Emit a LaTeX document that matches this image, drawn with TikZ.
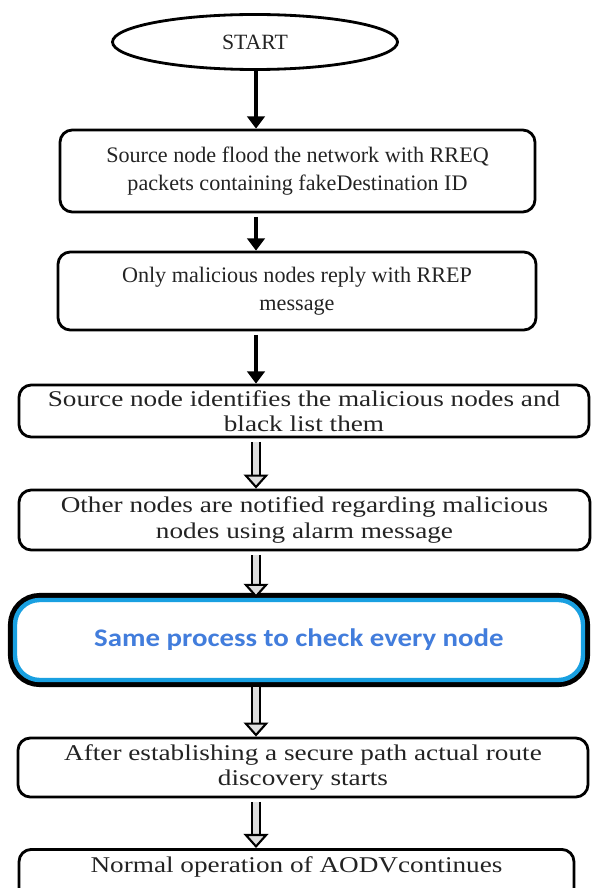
\documentclass[tikz,border=0pt]{standalone}
\usepackage{fontspec}
\setmainfont{Liberation Serif}
\newfontfamily\stretchedserif[FakeStretch=1.21]{Liberation Serif}
\newfontfamily\bluesans[FakeStretch=1.14]{Carlito}
\usetikzlibrary{shapes.geometric,arrows.meta}
\definecolor{boxblue}{RGB}{25,160,225}
\definecolor{labelblue}{RGB}{66,125,220}
\definecolor{inkgray}{RGB}{35,35,35}
\def\flowaxisx{5.12}
\tikzset{
  flowbox/.style={draw, line width=1.6pt, rounded corners=7pt, align=center,
    text=inkgray, inner sep=0pt, font=\fontsize{12.6}{16}\selectfont},
  widebox/.style={flowbox, font=\stretchedserif\fontsize{12.8}{14.5}\selectfont},
  startnode/.style={ellipse, draw, line width=1.6pt, text=inkgray, inner sep=0pt,
    font=\fontsize{12.4}{15}\selectfont},
  bluebox/.style={flowbox, draw=boxblue, line width=2.5pt, fill=white,
    rounded corners=14pt, preaction={draw=black, line width=8pt},
    text=labelblue, font=\bluesans\bfseries\fontsize{14.4}{16}\selectfont},
  solidarrow/.style={line width=2.8pt, -{Triangle[width=10pt,length=7pt]}},
  hollowarrow/.style={double=gray!25, double distance=3.2pt, line width=1.2pt,
    -{Triangle[width=14pt,length=8pt,fill=gray!25,line width=1.2pt]}}
}
\begin{document}
\begin{tikzpicture}[x=1cm, y=-1cm]
    \useasboundingbox (0,0) rectangle (11.92,17.76);
    \clip (0,0) rectangle (11.92,17.76);
    \coordinate (axis) at (\flowaxisx,0);
    \node[startnode, minimum width=5.7cm, minimum height=1.1cm] (start) at (5.10,0.84) {START};
    \node[flowbox, minimum width=9.5cm, minimum height=1.64cm] (flood) at (5.95,3.42)
        {Source node flood the network with RREQ\\packets containing fakeDestination ID};
    \node[flowbox, minimum width=9.56cm, minimum height=1.56cm] (reply) at (5.94,5.82)
        {Only malicious nodes reply with RREP\\message};
    \node[widebox, minimum width=11.4cm, minimum height=1.04cm] (blacklist) at (6.08,8.22)
        {Source node identifies the malicious nodes and\\black list them};
    \node[widebox, minimum width=11.42cm, minimum height=1.2cm] (alarm) at (6.09,10.4)
        {Other nodes are notified regarding malicious\\nodes using alarm message};
    \node[bluebox, minimum width=11.36cm, minimum height=1.6cm] (check) at (5.98,12.8)
        {Same process to check every node};
    \node[widebox, minimum width=11.4cm, minimum height=1.18cm] (secure) at (6.06,15.35)
        {After establishing a secure path actual route\\discovery starts};
    \node[widebox, anchor=north, minimum width=11.1cm, inner ysep=4pt, text depth=18pt] (normal) at (5.93,16.96)
        {Normal operation of AODVcontinues};
    \draw[solidarrow] (start.south -| axis) -- (flood.north -| axis);
    \draw[solidarrow, shorten <=2pt] (flood.south -| axis) -- (reply.north -| axis);
    \draw[solidarrow, shorten <=2pt] (reply.south -| axis) -- (blacklist.north -| axis);
    \draw[hollowarrow, shorten <=2pt] (blacklist.south -| axis) -- (alarm.north -| axis);
    \draw[hollowarrow, shorten <=2pt] (alarm.south -| axis) -- (check.north -| axis);
    \draw[hollowarrow, shorten <=3pt] (check.south -| axis) -- (secure.north -| axis);
    \draw[hollowarrow, shorten <=2pt] (secure.south -| axis) -- (normal.north -| axis);
\end{tikzpicture}
\end{document}
